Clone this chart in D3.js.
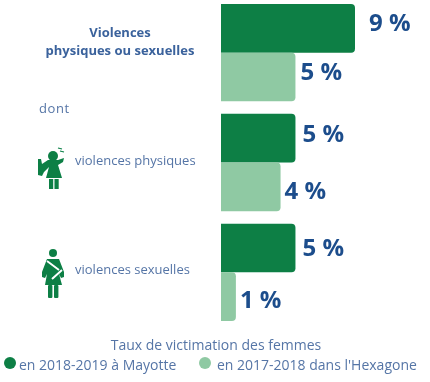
<!DOCTYPE html>
<html>
<head>
<meta charset="utf-8">
<script src="https://cdnjs.cloudflare.com/ajax/libs/d3/7.8.5/d3.min.js"></script>
<style>
  html, body { margin: 0; padding: 0; background: #fff; }
  svg { display: block; }
  text { font-family: "Open Sans", sans-serif; }
</style>
</head>
<body>
<script>
const categories = ['ensemble', 'physiques', 'sexuelles']
const mayotte = [9, 5, 5]
const hexagone = [5, 4, 1]
const seriesNames = ['en 2018-2019 à Mayotte', "en 2017-2018 dans l'Hexagone"]
const legendTitle = 'Taux de victimation des femmes'

const W = 430, H = 382
const DARK = '#0a7f45', LIGHT = '#8fc9a3'
const BLUE = '#1f4e8c', SOFT = '#5575a6'

const SVG = d3.select('body').append('svg').attr('width', W).attr('height', H)
const root = SVG.append('g').attr('filter', 'url(#soft)')

SVG.append('defs').append('filter').attr('id', 'soft')
  .attr('x', '-5%').attr('y', '-5%').attr('width', '110%').attr('height', '110%')
  .append('feGaussianBlur').attr('stdDeviation', 0.5)

const x = d3.scaleLinear().domain([0, 9]).range([221, 355])
const y = d3.scaleBand().domain(categories).range([4, 321]).paddingInner(0.114)
const inner = d3.scaleBand().domain([0, 1]).range([0, y.bandwidth()])

// bar with rounded right corners only
const barPath = (x0, x1, y0, y1, r = 4) => {
  const p = d3.path()
  p.moveTo(x0, y0)
  p.lineTo(x1 - r, y0)
  p.arcTo(x1, y0, x1, y0 + r, r)
  p.lineTo(x1, y1 - r)
  p.arcTo(x1, y1, x1 - r, y1, r)
  p.lineTo(x0, y1)
  p.closePath()
  return p.toString()
}

const rows = categories.flatMap((c, i) => [
  {cat: c, s: 0, v: mayotte[i], color: DARK},
  {cat: c, s: 1, v: hexagone[i], color: LIGHT}
])

// the value labels are not placed evenly in the original, nudged by hand
const labelDx = [14, 5, 7, 4, 7, 4]
const labelDy = [-4, -3, -3, 6, 2, 5]

root.append('g').selectAll('path').data(rows).join('path')
  .attr('fill', d => d.color)
  .attr('d', d => {
    const top = y(d.cat) + inner(d.s)
    return barPath(x(0), x(d.v), top, top + inner.bandwidth())
  })

root.append('g').selectAll('text').data(rows).join('text')
  .attr('x', (d, i) => x(d.v) + labelDx[i])
  .attr('y', (d, i) => y(d.cat) + inner(d.s) + inner.bandwidth() / 2 + labelDy[i])
  .attr('dominant-baseline', 'middle')
  .attr('font-size', 24)
  .attr('font-weight', 700)
  .attr('fill', BLUE)
  .text(d => `${d.v} %`)

// left labels
const labels = root.append('g').attr('fill', SOFT).attr('font-size', 13)
labels.append('text').attr('x', 120).attr('y', 37).attr('text-anchor', 'middle')
  .attr('font-weight', 700).attr('fill', '#3a629c').text('Violences')
labels.append('text').attr('x', 120).attr('y', 55).attr('text-anchor', 'middle')
  .attr('font-weight', 700).attr('fill', '#3a629c').text('physiques ou sexuelles')
labels.append('text').attr('x', 39).attr('y', 113).attr('letter-spacing', 0.6).text('dont')
labels.append('text').attr('x', 75).attr('y', 165).text('violences physiques')
labels.append('text').attr('x', 75).attr('y', 274).text('violences sexuelles')

// icons
const physIcon = root.append('g').attr('fill', DARK)
physIcon.append('circle').attr('cx', 53).attr('cy', 156).attr('r', 5)
physIcon.append('path').attr('d', 'M38 159 L41 159 L42 164 L48 160 L58 160 L64 158 L63 162 L58 165 L62 178 L46 178 L49 167 L44 172 L42 176 L38 175 Z')
physIcon.append('rect').attr('x', 49).attr('y', 179).attr('width', 4.2).attr('height', 10)
physIcon.append('rect').attr('x', 54.5).attr('y', 179).attr('width', 4.2).attr('height', 10)
physIcon.append('path').attr('d', 'M58 148 L62 149 M60 151 L64 152').attr('stroke', DARK).attr('stroke-width', 1.2).attr('fill', 'none')

const sexIcon = root.append('g').attr('fill', DARK)
sexIcon.append('circle').attr('cx', 53).attr('cy', 253).attr('r', 4)
sexIcon.append('path').attr('d', 'M47 259 L59 259 L64 272 L64 277 L61 278 L59 274 L62 285 L45 285 L47 274 L45 278 L42 277 L42 272 Z')
sexIcon.append('rect').attr('x', 48).attr('y', 285).attr('width', 4.4).attr('height', 13).attr('rx', 1)
sexIcon.append('rect').attr('x', 54).attr('y', 285).attr('width', 4.4).attr('height', 13).attr('rx', 1)
sexIcon.append('path').attr('d', 'M47 261 L59 270 M62 270 L52 279').attr('stroke', '#fff').attr('stroke-width', 2).attr('fill', 'none')

// legend
const legend = root.append('g').attr('fill', SOFT).attr('font-size', 14)
legend.append('text').attr('x', 216).attr('y', 350).attr('text-anchor', 'middle').text(legendTitle)
const legendX = [10, 205], legendTextX = [19, 217]
legend.selectAll('circle').data(seriesNames).join('circle')
  .attr('cx', (d, i) => legendX[i]).attr('cy', 363).attr('r', 6)
  .attr('fill', (d, i) => i ? LIGHT : DARK)
legend.selectAll('text.item').data(seriesNames).join('text').attr('class', 'item')
  .attr('x', (d, i) => legendTextX[i]).attr('y', 370).text(d => d)
</script>
</body>
</html>
